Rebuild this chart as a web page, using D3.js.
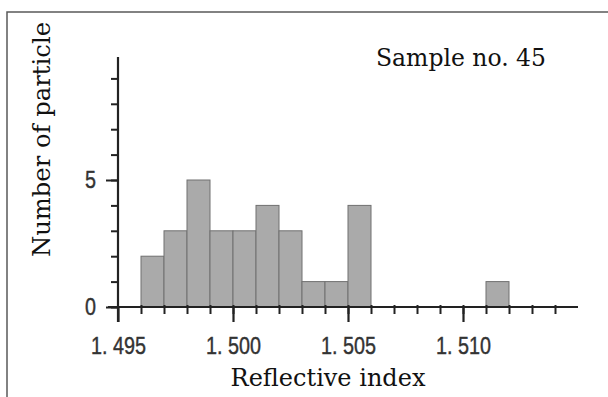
<!DOCTYPE html>
<html>
<head>
<meta charset="utf-8">
<script src="https://cdn.jsdelivr.net/npm/d3@7"></script>
<style>
  body { margin: 0; background: #fff; }
  svg { display: block; }
</style>
</head>
<body>
<div id="chart"></div>
<script>
// histogram bins (left edge of each 0.001 wide bin) and particle counts
var binStarts = [1.496, 1.497, 1.498, 1.499, 1.500, 1.501, 1.502, 1.503, 1.504, 1.505, 1.511];
var counts = [2, 3, 5, 3, 3, 4, 3, 1, 1, 4, 1];
var binWidth = 0.001;

var xMajor = [1.495, 1.500, 1.505, 1.510];
var xMinor = d3.range(1.496, 1.5145, 0.001);
var yMajor = [0, 5];
var yMinor = d3.range(0, 10);

var width = 608, height = 397;
var tickFont = "'Liberation Sans', Arial, sans-serif";
var serifFont = "'DejaVu Serif', serif";

var svg = d3.select("#chart")
  .append("svg")
  .attr("width", width)
  .attr("height", height);

// frame (top and left edges only, as in the scan)
svg.append("path")
  .attr("d", "M7,397 L7,12 L608,12")
  .attr("fill", "none")
  .attr("stroke", "#5a5a5a")
  .attr("stroke-width", 1.5);

var x = d3.scaleLinear().domain([1.495, 1.515]).range([118, 578]);
var y = d3.scaleLinear().domain([0, 10]).range([307, 53]);

// bars
svg.selectAll("rect.bar")
  .data(binStarts)
  .enter()
  .append("rect")
    .attr("class", "bar")
    .attr("x", function(d) { return x(d); })
    .attr("y", function(d, i) { return y(counts[i]); })
    .attr("width", function(d) { return x(d + binWidth) - x(d); })
    .attr("height", function(d, i) { return y(0) - y(counts[i]); })
    .attr("fill", "#aaaaaa")
    .attr("stroke", "#707070")
    .attr("stroke-width", 1);

// X axis: minor ticks
var gxMinor = svg.append("g")
  .attr("transform", "translate(0," + y(0) + ")")
  .call(d3.axisBottom(x).tickValues(xMinor).tickSize(7).tickFormat(""));
gxMinor.select(".domain").remove();
gxMinor.selectAll("line").attr("stroke", "#222").attr("stroke-width", 2).attr("y1", -2);

// X axis: major ticks + labels (narrow, like the scanned font)
var gx = svg.append("g")
  .attr("transform", "translate(0," + y(0) + ")")
  .call(d3.axisBottom(x).tickValues(xMajor).tickSize(15)
    .tickFormat(function(d) { return d3.format(".3f")(d).replace(".", ". "); }));
gx.select(".domain").remove();
gx.selectAll("line").attr("stroke", "#222").attr("stroke-width", 2.2);
gx.selectAll("text")
  .attr("y", 47)
  .attr("dy", null)
  .attr("fill", "#333")
  .attr("stroke", "#333")
  .attr("stroke-width", 0.4)
  .attr("textLength", 55)
  .attr("lengthAdjust", "spacingAndGlyphs")
  .style("font-family", tickFont)
  .style("font-size", "24px");

// x axis line
svg.append("line")
  .attr("x1", 108).attr("x2", 578)
  .attr("y1", y(0)).attr("y2", y(0))
  .attr("stroke", "#222").attr("stroke-width", 2.2);

// Y axis: minor ticks
var gyMinor = svg.append("g")
  .attr("transform", "translate(" + x(1.495) + ",0)")
  .call(d3.axisLeft(y).tickValues(yMinor).tickSize(7).tickFormat(""));
gyMinor.select(".domain").remove();
gyMinor.selectAll("line").attr("stroke", "#222").attr("stroke-width", 2);

// Y axis: major ticks + labels
var gy = svg.append("g")
  .attr("transform", "translate(" + x(1.495) + ",0)")
  .call(d3.axisLeft(y).tickValues(yMajor).tickSize(12).tickFormat(d3.format("d")));
gy.select(".domain").remove();
gy.selectAll("line").attr("stroke", "#222").attr("stroke-width", 2);
gy.selectAll("text")
  .attr("x", -22)
  .attr("fill", "#333")
  .attr("stroke", "#333")
  .attr("stroke-width", 0.4)
  .attr("textLength", 11)
  .attr("lengthAdjust", "spacingAndGlyphs")
  .style("font-family", tickFont)
  .style("font-size", "24px");

// y axis line (runs below the x axis to the first major tick)
svg.append("line")
  .attr("x1", x(1.495)).attr("x2", x(1.495))
  .attr("y1", 57).attr("y2", 322)
  .attr("stroke", "#222").attr("stroke-width", 2.2);

// annotation
svg.append("text")
  .attr("x", 376)
  .attr("y", 66)
  .attr("textLength", 170)
  .attr("lengthAdjust", "spacingAndGlyphs")
  .style("font-family", serifFont)
  .style("font-size", "23.5px")
  .attr("fill", "#111")
  .text("Sample no. 45");

// X axis label
svg.append("text")
  .attr("text-anchor", "middle")
  .attr("x", 328)
  .attr("y", 386)
  .style("font-family", serifFont)
  .style("font-size", "24px")
  .attr("fill", "#111")
  .text("Reflective index");

// Y axis label
svg.append("text")
  .attr("x", -257)
  .attr("y", 50)
  .attr("transform", "rotate(-90)")
  .attr("textLength", 235)
  .attr("lengthAdjust", "spacingAndGlyphs")
  .style("font-family", serifFont)
  .style("font-size", "24.5px")
  .attr("fill", "#111")
  .text("Number of particle");
</script>
</body>
</html>
